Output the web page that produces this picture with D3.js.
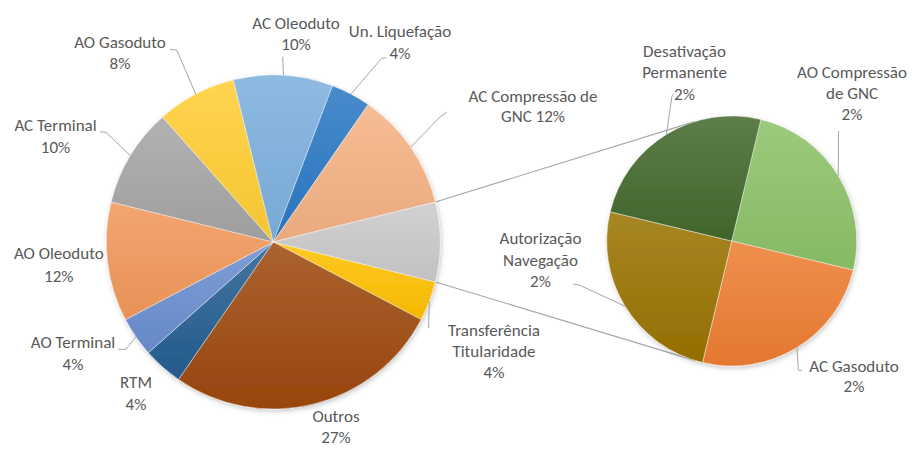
<!DOCTYPE html>
<html>
<head>
<meta charset="utf-8">
<script src="https://cdn.jsdelivr.net/npm/d3@7/dist/d3.min.js"></script>
<style>
  html, body { margin: 0; padding: 0; background: #ffffff; }
  svg { display: block; }
  text { font-family: Calibri, Carlito, Lato, sans-serif; font-size: 17px; fill: #595959; }
</style>
</head>
<body>
<svg id="chart" width="912" height="450"></svg>
<script>
// ---------------- DATA ----------------
const mainCategories = ["Transferência Titularidade", "Outros", "RTM", "AO Terminal", "AO Oleoduto",
  "AC Terminal", "AO Gasoduto", "AC Oleoduto", "Un. Liquefação", "AC Compressão de GNC"];
const mainValues = [2, 14, 2, 2, 6, 5, 4, 5, 2, 6];
const subCategories = ["AO Compressão de GNC", "AC Gasoduto", "Autorização Navegação", "Desativação Permanente"];
const subValues = [1, 1, 1, 1];

// ---------------- STYLE ----------------
const mainColors = ["#ffc000", "#9e480e", "#255e91", "#698ed0", "#f1975a",
  "#a5a5a5", "#ffcd33", "#7cafdd", "#2a78c4", "#f4b183"];
const otherColor = "#c9c9c9";
const subColors = ["#8cc168", "#ed7d31", "#997300", "#43682b"];

// ---------------- LAYOUT ----------------
const W = 912, H = 450;
const mainC = { x: 273.3, y: 242, r: 167 };
const subC = { x: 731.7, y: 241, r: 125 };
const subStart = 13.5 * Math.PI / 180;

const labelLayout = {
  "Transferência Titularidade": { x: 494, y: 336, lh: 21.2, breaks: [1, 1, 1], leader: [[428.5, 328]] },
  "Outros": { x: 336, y: 422, lh: 20.6, breaks: [1, 1] },
  "RTM": { x: 136, y: 388.3, lh: 21.7, breaks: [1, 1] },
  "AO Terminal": { x: 73, y: 348.3, lh: 21.7, breaks: [2, 1], leader: [[126, 349.3], [118.5, 349.3]] },
  "AO Oleoduto": { x: 58.8, y: 259.3, lh: 22.4, breaks: [2, 1] },
  "AC Terminal": { x: 55.5, y: 130.7, lh: 22, breaks: [2, 1], leader: [[106, 132.3], [100, 131.7]] },
  "AO Gasoduto": { x: 120, y: 47.7, lh: 21.6, breaks: [2, 1], leader: [[176.7, 50], [170, 49.3]] },
  "AC Oleoduto": { x: 296, y: 28.5, lh: 21.5, breaks: [2, 1], leader: [[282.7, 56.7]] },
  "Un. Liquefação": { x: 400, y: 37.3, lh: 22, breaks: [2, 1], leader: [[381.7, 58.3], [386, 57.5]] },
  "AC Compressão de GNC": { x: 533, y: 101.5, lh: 20.6, breaks: [3, 2], leader: [[440, 117], [447, 112]] },
  "AO Compressão de GNC": { x: 852, y: 78.3, lh: 21, breaks: [2, 2, 1], leader: [[838.5, 131]] },
  "AC Gasoduto": { x: 854, y: 371.7, lh: 20.6, breaks: [2, 1], leader: [[798.3, 370], [802, 370.7]] },
  "Autorização Navegação": { x: 540.5, y: 244.3, lh: 21.5, breaks: [1, 1, 1], leader: [[579.3, 285], [573.3, 284.3]] },
  "Desativação Permanente": { x: 684.5, y: 56.7, lh: 21.7, breaks: [1, 1, 1], leader: [[672, 96], [674, 93.5]] }
};

// ---------------- BUILD ----------------
const svg = d3.select("#chart");
svg.append("rect").attr("width", W).attr("height", H).attr("fill", "#ffffff");
const defs = svg.append("defs");

const shadow = defs.append("filter").attr("id", "shadow")
  .attr("x", "-10%").attr("y", "-10%").attr("width", "120%").attr("height", "120%");
shadow.append("feDropShadow").attr("dx", 1).attr("dy", 2).attr("stdDeviation", 2.5)
  .attr("flood-color", "#000").attr("flood-opacity", 0.22);

let gradId = 0;
function gradient(base) {
  const id = "g" + (gradId++);
  const g = defs.append("linearGradient").attr("id", id)
    .attr("x1", 0).attr("y1", 0).attr("x2", 0).attr("y2", 1);
  g.append("stop").attr("offset", "0%").attr("stop-color", d3.interpolateRgb(base, "#ffffff")(0.14));
  g.append("stop").attr("offset", "100%").attr("stop-color", d3.color(base).darker(0.12).formatHex());
  return "url(#" + id + ")";
}

const total = d3.sum(mainValues) + d3.sum(subValues);
const otherValue = d3.sum(subValues);
const pct = v => Math.round(v / total * 100) + "%";

// main pie: categories + combined slice (last), combined slice centred at 3 o'clock
const mainData = mainCategories.map((c, i) => ({ name: c, value: mainValues[i], color: mainColors[i] }));
mainData.push({ name: "__other__", value: otherValue, color: otherColor });
const otherSpan = otherValue / (d3.sum(mainValues) + otherValue) * 2 * Math.PI;
const mainStart = Math.PI / 2 + otherSpan / 2;
const mainPie = d3.pie().sort(null).value(d => d.value)
  .startAngle(mainStart).endAngle(mainStart + 2 * Math.PI);
const mainArcs = mainPie(mainData);
const mainArc = d3.arc().innerRadius(0).outerRadius(mainC.r);
const mainEdge = d3.arc().innerRadius(mainC.r).outerRadius(mainC.r);

const subData = subCategories.map((c, i) => ({ name: c, value: subValues[i], color: subColors[i] }));
const subPie = d3.pie().sort(null).value(d => d.value)
  .startAngle(subStart).endAngle(subStart + 2 * Math.PI);
const subArcs = subPie(subData);
const subArc = d3.arc().innerRadius(0).outerRadius(subC.r);
const subEdge = d3.arc().innerRadius(subC.r).outerRadius(subC.r);

// connector lines (tangents from the combined slice ends to secondary pie)
const otherArc = mainArcs[mainArcs.length - 1];
function pointAt(c, a) { return [c.x + c.r * Math.sin(a), c.y - c.r * Math.cos(a)]; }
function tangent(P, upper) {
  const dx = P[0] - subC.x, dy = P[1] - subC.y;
  const d = Math.hypot(dx, dy);
  const phi = Math.atan2(dy, dx), al = Math.acos(subC.r / d);
  const t1 = [subC.x + subC.r * Math.cos(phi + al), subC.y + subC.r * Math.sin(phi + al)];
  const t2 = [subC.x + subC.r * Math.cos(phi - al), subC.y + subC.r * Math.sin(phi - al)];
  return upper ? (t1[1] < t2[1] ? t1 : t2) : (t1[1] > t2[1] ? t1 : t2);
}
const Ptop = pointAt(mainC, otherArc.startAngle);
const Pbot = pointAt(mainC, otherArc.endAngle);
const conn = svg.append("g").attr("stroke", "#a6a6a6").attr("stroke-width", 1.1).attr("fill", "none");
[[Ptop, tangent(Ptop, true)], [Pbot, tangent(Pbot, false)]].forEach(([a, b]) => {
  conn.append("line").attr("x1", a[0]).attr("y1", a[1]).attr("x2", b[0]).attr("y2", b[1]);
});

// pies
const gMain = svg.append("g").attr("transform", `translate(${mainC.x},${mainC.y})`).attr("filter", "url(#shadow)");
gMain.selectAll("path").data(mainArcs).join("path")
  .attr("d", mainArc)
  .attr("fill", d => gradient(d.data.color))
  .attr("stroke", "#ffffff").attr("stroke-width", 0.6).attr("stroke-opacity", 0.7);

const gSub = svg.append("g").attr("transform", `translate(${subC.x},${subC.y})`).attr("filter", "url(#shadow)");
gSub.selectAll("path").data(subArcs).join("path")
  .attr("d", subArc)
  .attr("fill", d => gradient(d.data.color))
  .attr("stroke", "#ffffff").attr("stroke-width", 0.6).attr("stroke-opacity", 0.7);

// labels + leaders
const gLab = svg.append("g");
const lineGen = d3.line();
function drawLabel(d, center, edgeArc) {
  const L = labelLayout[d.data.name];
  if (!L) return;
  const e = edgeArc.centroid(d);
  const start = [center.x + e[0], center.y + e[1]];
  if (L.leader) {
    gLab.append("path").attr("d", lineGen([start, ...L.leader]))
      .attr("fill", "none").attr("stroke", "#a6a6a6").attr("stroke-width", 1);
  }
  const words = (d.data.name + " " + pct(d.data.value)).split(" ");
  const lines = [];
  let k = 0;
  L.breaks.forEach(n => { lines.push(words.slice(k, k + n).join(" ")); k += n; });
  const t = gLab.append("text").attr("text-anchor", "middle");
  lines.forEach((ln, i) => {
    t.append("tspan").attr("x", L.x).attr("y", L.y + i * L.lh).text(ln);
  });
}
mainArcs.forEach(d => drawLabel(d, mainC, mainEdge));
subArcs.forEach(d => drawLabel(d, subC, subEdge));
</script>
</body>
</html>
